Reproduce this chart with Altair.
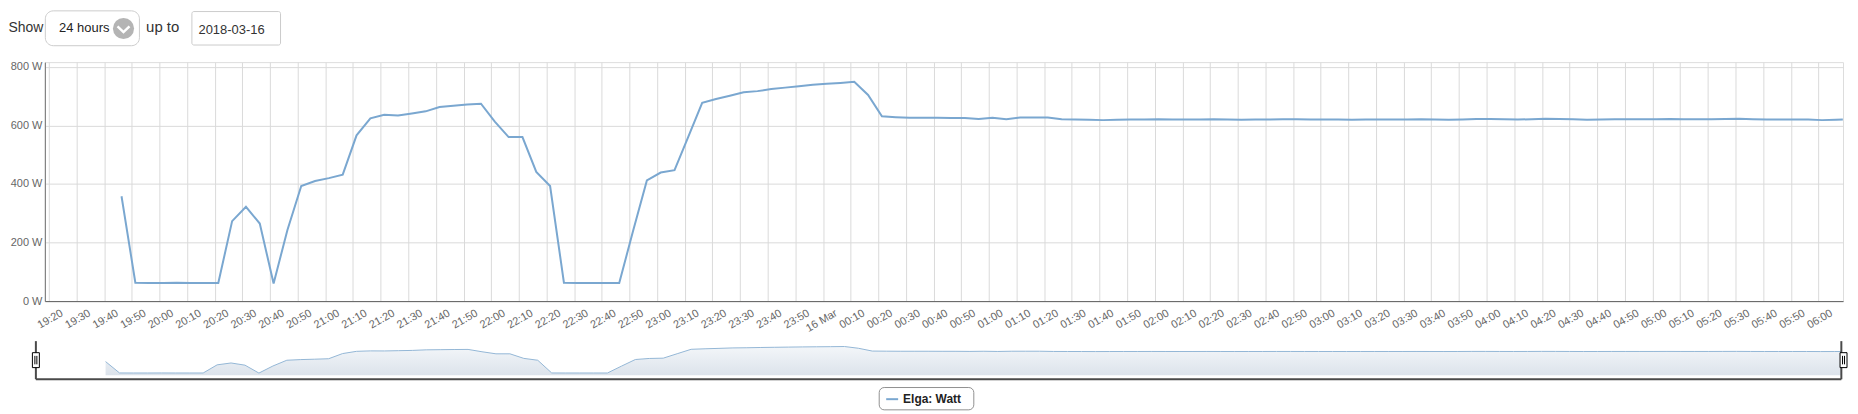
import altair as alt
import pandas as pd

# ---------------- data ----------------
series_name = "Elga: Watt"
first_sample = "2018-03-15 19:46:18"
last_sample = "2018-03-16 06:08:50"
watts = [
    358, 63, 62, 62, 63, 62, 62, 62, 273, 322,
    265, 60, 243, 393, 410, 420, 432, 566, 624, 636,
    634, 641, 648, 663, 667, 671, 674, 613, 560, 560,
    441, 393, 63, 62, 62, 62, 62, 239, 412, 439,
    447, 562, 677, 690, 701, 713, 717, 724, 729, 734,
    739, 742, 745, 749, 704, 631, 628, 626, 626, 626,
    625, 625, 622, 626, 621, 627, 627, 627, 621, 620,
    619, 618, 619, 620, 620, 621, 620, 620, 620, 621,
    620, 619, 620, 620, 621, 621, 620, 620, 620, 619,
    620, 620, 620, 620, 621, 620, 619, 620, 622, 622,
    621, 620, 621, 623, 622, 621, 619, 620, 621, 621,
    621, 621, 622, 621, 621, 621, 622, 623, 621, 620,
    620, 620, 620, 618, 619, 620,
]
y_ticks = [0, 200, 400, 600, 800]
tick_start, tick_end = "2018-03-15 19:20", "2018-03-16 06:00"
show_label, range_label, upto_label, date_label = "Show", "24 hours", "up to", "2018-03-16"

times = list(pd.date_range(first_sample, periods=len(watts) - 1, freq="5min")) + [pd.Timestamp(last_sample)]
df = pd.DataFrame({"time": times, "watt": watts})
one = pd.DataFrame({"k": [0]})


def dt(s):
    t = pd.Timestamp(s)
    return alt.DateTime(year=t.year, month=t.month, date=t.day,
                        hours=t.hour, minutes=t.minute, seconds=t.second)


tick_vals = [dt(t) for t in pd.date_range(tick_start, tick_end, freq="10min")]

FONT = "Liberation Sans"
LINE = "#7aa7d0"

# page-pixel layout (page has an 8px margin)
PLEFT, PTOP, PRIGHT, PBOTTOM = 45, 61.5, 1851, 301.5
W, H = PRIGHT - PLEFT, PBOTTOM - PTOP


def px(v):
    return v - PLEFT


def py(v):
    return v - PTOP


# ---------------- main plot ----------------
main = alt.Chart(df).mark_line(color=LINE, strokeWidth=2).encode(
    x=alt.X("time:T",
            scale=alt.Scale(domain=[dt("2018-03-15 19:18:34"), dt("2018-03-16 06:08:54")], nice=False),
            axis=alt.Axis(values=tick_vals, title=None, grid=True, gridColor="#dadada",
                          ticks=False, domainColor="#606060", domainWidth=1,
                          labelExpr="(hours(datum.value)==0 && minutes(datum.value)==0) ? timeFormat(datum.value, '%d %b') : timeFormat(datum.value, '%H:%M')",
                          labelAngle=-30, labelAlign="right", labelBaseline="middle",
                          labelOffset=13, labelPadding=11, labelOverlap=False, labelFlush=False,
                          labelColor="#666666", labelFontSize=11, labelFont=FONT)),
    y=alt.Y("watt:Q",
            scale=alt.Scale(domain=[0, 816], nice=False, zero=False),
            axis=alt.Axis(values=y_ticks, title=None, grid=True, gridColor="#dadada",
                          ticks=False, domainColor="#707070", domainWidth=1,
                          labelExpr="datum.value + ' W'", labelPadding=3,
                          labelColor="#666666", labelFontSize=11, labelFont=FONT)),
)

# ---------------- navigator ----------------
NL, NR, NT, NB = px(36), px(1849.3), py(341.7), py(380)
nav_x = alt.Scale(domain=[dt("2018-03-15 19:21:18"), dt("2018-03-16 06:08:50")], range=[NL, NR], nice=False)
nav_y = alt.Scale(domain=[-101, 889], range=[NB, NT], nice=False, zero=False)
grad = alt.Gradient(gradient="linear",
                    stops=[alt.GradientStop(color="#f3f6f9", offset=0),
                           alt.GradientStop(color="#dce3eb", offset=1)],
                    x1=1, x2=1, y1=0, y2=1)
nav_area = alt.Chart(df).mark_area(color=grad, opacity=1).encode(
    x=alt.X("time:T", scale=nav_x, axis=None),
    y=alt.Y("watt:Q", scale=nav_y, axis=None),
    y2=alt.value(NB),
)
nav_line = alt.Chart(df).mark_line(color="#93b6d6", strokeWidth=1).encode(
    x=alt.X("time:T", scale=nav_x, axis=None),
    y=alt.Y("watt:Q", scale=nav_y, axis=None),
)
nav = alt.layer(nav_area, nav_line)

NAVC = "#4a4a4a"
nav_left = alt.Chart(one).mark_rule(color=NAVC, strokeWidth=2).encode(
    x=alt.value(NL), y=alt.value(NT), y2=alt.value(NB))
nav_right = alt.Chart(one).mark_rule(color=NAVC, strokeWidth=2).encode(
    x=alt.value(NR), y=alt.value(NT), y2=alt.value(NB))
nav_bottom = alt.Chart(one).mark_rule(color=NAVC, strokeWidth=2).encode(
    x=alt.value(NL), x2=alt.value(NR), y=alt.value(NB))


def handle(cx):
    box = alt.Chart(one).mark_rect(fill="white", stroke="#000000", strokeWidth=1).encode(
        x=alt.value(cx - 3.5), x2=alt.value(cx + 3.5), y=alt.value(py(353.3)), y2=alt.value(py(368.3)))
    l1 = alt.Chart(one).mark_rule(color="#000000", strokeWidth=1).encode(
        x=alt.value(cx - 1), y=alt.value(py(356.5)), y2=alt.value(py(365)))
    l2 = alt.Chart(one).mark_rule(color="#000000", strokeWidth=1).encode(
        x=alt.value(cx + 1), y=alt.value(py(356.5)), y2=alt.value(py(365)))
    return [box, l1, l2]


# ---------------- legend ----------------
leg_box = alt.Chart(one).mark_rect(fill="white", stroke="#909090", strokeWidth=1, cornerRadius=5).encode(
    x=alt.value(px(883)), x2=alt.value(px(978)), y=alt.value(py(388.3)), y2=alt.value(py(410.7)))
leg_sym = alt.Chart(one).mark_rule(color=LINE, strokeWidth=2).encode(
    x=alt.value(px(890)), x2=alt.value(px(902)), y=alt.value(py(400)))
leg_txt = alt.Chart(one).mark_text(text=series_name, align="left", baseline="middle",
                                   fontSize=12, fontWeight="bold", font=FONT, color="#222222").encode(
    x=alt.value(px(907)), y=alt.value(py(400)))

# ---------------- top controls ----------------
show_txt = alt.Chart(one).mark_text(text=show_label, align="left", baseline="alphabetic",
                                    fontSize=14, font=FONT, color="#333333").encode(
    x=alt.value(px(8.5)), y=alt.value(py(31.7)))
dd_box = alt.Chart(one).mark_rect(fill="white", stroke="#cccccc", strokeWidth=1, cornerRadius=8).encode(
    x=alt.value(px(45.5)), x2=alt.value(px(140)), y=alt.value(py(10)), y2=alt.value(py(45)))
dd_txt = alt.Chart(one).mark_text(text=range_label, align="left", baseline="alphabetic",
                                  fontSize=13, font=FONT, color="#222222").encode(
    x=alt.value(px(59.3)), y=alt.value(py(31.7)))
dd_circle = alt.Chart(one).mark_point(shape="circle", filled=True, color="#b4b4b4", size=450, opacity=1).encode(
    x=alt.value(px(124)), y=alt.value(py(27.7)))
dd_chev = alt.Chart(one).mark_point(shape="M-1,-0.45L0,0.5L1,-0.45", filled=False, color="white",
                                    strokeWidth=2.5, size=144, opacity=1).encode(
    x=alt.value(px(124)), y=alt.value(py(28.3)))
upto_txt = alt.Chart(one).mark_text(text=upto_label, align="left", baseline="alphabetic",
                                    fontSize=15, font=FONT, color="#333333").encode(
    x=alt.value(px(146.7)), y=alt.value(py(31.7)))
date_box = alt.Chart(one).mark_rect(fill="white", stroke="#cccccc", strokeWidth=1, cornerRadius=2).encode(
    x=alt.value(px(192.7)), x2=alt.value(px(281.7)), y=alt.value(py(10.7)), y2=alt.value(py(44.3)))
date_txt = alt.Chart(one).mark_text(text=date_label, align="left", baseline="alphabetic",
                                    fontSize=13, font=FONT, color="#333333").encode(
    x=alt.value(px(199.3)), y=alt.value(py(33.3)))

layers = [main, nav, nav_left, nav_right, nav_bottom] + handle(NL) + handle(px(1851.5)) + [
    leg_box, leg_sym, leg_txt, show_txt, dd_box, dd_txt, dd_circle, dd_chev,
    upto_txt, date_box, date_txt]

chart = alt.layer(*layers).resolve_scale(x="independent", y="independent").properties(
    width=W, height=H,
    autosize=alt.AutoSizeParams(type="none"),
    padding={"left": PLEFT - 8, "top": PTOP - 8, "right": 1858 - PRIGHT, "bottom": 412 - PBOTTOM},
    background="white",
).configure_view(stroke=None).configure(font=FONT)

chart.save("out.html", embed_options={"renderer": "svg", "actions": False})
